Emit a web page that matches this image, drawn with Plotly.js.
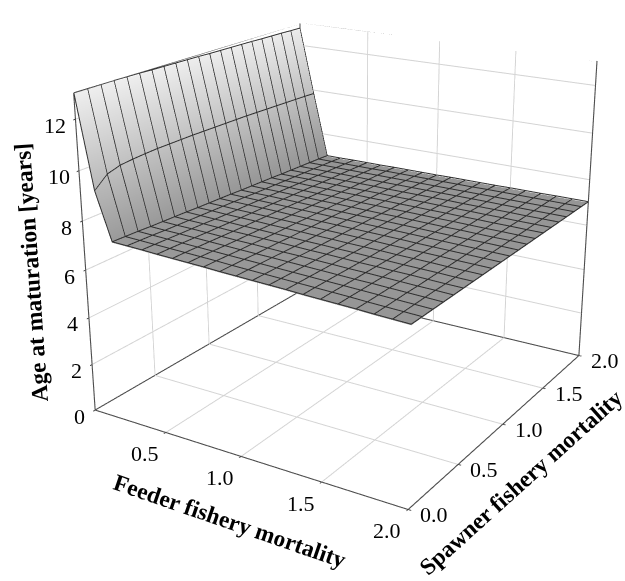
<!DOCTYPE html>
<html><head><meta charset="utf-8"><script src="https://cdn.plot.ly/plotly-3.0.1.min.js"></script>
<style>html,body{margin:0;padding:0;background:#fff;overflow:hidden}#w{position:relative;width:625px;height:581px;overflow:hidden}#g{position:absolute;left:-238px;top:-350px;width:1170px;height:1170px}</style></head>
<body><div id="w"><div id="g"></div></div>
<script>
const feeder=[0,0.1,0.2,0.3,0.4,0.5,0.6,0.7,0.8,0.9,1.0,1.1,1.2,1.3,1.4,1.5,1.6,1.7,1.8,1.9,2.0];
const spawner=[0,0.1,0.2,0.3,0.4,0.5,0.6,0.7,0.8,0.9,1.0,1.1,1.2,1.3,1.4,1.5,1.6,1.7,1.8,1.9,2.0];
const age=[
[13.00,9.30,7.40,7.38,7.36,7.33,7.31,7.29,7.27,7.24,7.22,7.20,7.18,7.16,7.13,7.11,7.09,7.07,7.04,7.02,7.00],
[12.99,9.75,7.38,7.36,7.34,7.32,7.30,7.28,7.26,7.23,7.21,7.19,7.17,7.15,7.13,7.11,7.09,7.06,7.04,7.02,7.00],
[12.97,9.90,7.36,7.34,7.32,7.30,7.28,7.26,7.24,7.22,7.20,7.18,7.16,7.14,7.12,7.10,7.08,7.06,7.04,7.02,7.00],
[12.96,9.95,7.33,7.31,7.30,7.28,7.26,7.24,7.22,7.20,7.19,7.17,7.15,7.13,7.11,7.09,7.08,7.06,7.04,7.02,7.00],
[12.95,9.98,7.31,7.29,7.28,7.26,7.24,7.22,7.21,7.19,7.17,7.16,7.14,7.12,7.10,7.09,7.07,7.05,7.03,7.02,7.00],
[12.94,10.00,7.29,7.27,7.26,7.24,7.22,7.21,7.19,7.18,7.16,7.14,7.13,7.11,7.09,7.08,7.06,7.05,7.03,7.01,7.00],
[12.92,10.00,7.27,7.25,7.23,7.22,7.20,7.19,7.17,7.16,7.14,7.13,7.11,7.10,7.08,7.07,7.05,7.04,7.03,7.01,7.00],
[12.91,10.00,7.24,7.23,7.21,7.20,7.19,7.17,7.16,7.15,7.13,7.12,7.10,7.09,7.08,7.06,7.05,7.04,7.02,7.01,7.00],
[12.90,10.00,7.22,7.21,7.19,7.18,7.17,7.16,7.15,7.13,7.12,7.11,7.10,7.09,7.07,7.06,7.05,7.04,7.02,7.01,7.00],
[12.89,9.99,7.20,7.19,7.18,7.17,7.16,7.14,7.13,7.12,7.11,7.10,7.09,7.08,7.07,7.05,7.04,7.03,7.02,7.01,7.00],
[12.88,9.98,7.18,7.17,7.16,7.15,7.14,7.13,7.12,7.11,7.10,7.09,7.08,7.07,7.06,7.05,7.04,7.03,7.02,7.01,7.00],
[12.86,9.97,7.15,7.14,7.14,7.13,7.12,7.11,7.10,7.09,7.08,7.08,7.07,7.06,7.05,7.04,7.03,7.02,7.02,7.01,7.00],
[12.85,9.96,7.13,7.12,7.12,7.11,7.10,7.09,7.09,7.08,7.07,7.06,7.06,7.05,7.04,7.03,7.03,7.02,7.01,7.01,7.00],
[12.84,9.95,7.11,7.10,7.10,7.09,7.08,7.08,7.07,7.06,7.06,7.05,7.05,7.04,7.03,7.03,7.02,7.01,7.01,7.00,7.00],
[12.83,9.93,7.09,7.08,7.08,7.07,7.07,7.06,7.06,7.05,7.05,7.04,7.04,7.03,7.03,7.02,7.02,7.01,7.01,7.00,7.00],
[12.82,9.91,7.06,7.06,7.06,7.05,7.05,7.04,7.04,7.04,7.03,7.03,7.03,7.02,7.02,7.02,7.01,7.01,7.00,7.00,7.00],
[12.80,9.89,7.04,7.04,7.04,7.03,7.03,7.03,7.03,7.02,7.02,7.02,7.02,7.02,7.01,7.01,7.01,7.01,7.00,7.00,7.00],
[12.79,9.87,7.02,7.02,7.02,7.02,7.02,7.01,7.01,7.01,7.01,7.01,7.01,7.01,7.01,7.01,7.00,7.00,7.00,7.00,7.00],
[12.78,9.85,7.00,7.00,7.00,7.00,7.00,7.00,7.00,7.00,7.00,7.00,7.00,7.00,7.00,7.00,7.00,7.00,7.00,7.00,7.00],
[12.76,9.83,6.98,6.98,6.98,6.98,6.98,6.99,6.99,6.99,6.99,6.99,6.99,6.99,7.00,7.00,7.00,7.00,7.00,7.00,7.00],
[12.75,9.80,6.95,6.95,6.96,6.96,6.96,6.97,6.97,6.97,6.97,6.98,6.98,6.98,6.98,6.99,6.99,6.99,7.00,7.00,7.00]];
const feederTicks=[0.5,1.0,1.5,2.0];
const spawnerTicks=[0.0,0.5,1.0,1.5,2.0];
const ageTicks=[0,2,4,6,8,10,12];
const feederRange=[0,2], spawnerRange=[0,2], ageRange=[0,13];
const font={family:'"Liberation Serif",serif',size:22,color:'#000'};
const tfont={family:'"Liberation Serif",serif',size:23.5,color:'#000'};
const PX=-238,PY=-350,S=1170;
const ann=[];
feederTicks.forEach(v=>ann.push({x:v,y:0,z:0,text:v.toFixed(1),showarrow:false,font:font,xshift:-21,yshift:-21}));
spawnerTicks.forEach(v=>ann.push({x:2,y:v,z:0,text:v.toFixed(1),showarrow:false,font:font,xshift:26,yshift:-5}));
ageTicks.forEach(v=>ann.push({x:0,y:0,z:v,text:String(v),showarrow:false,font:font,xshift:v>=10?-20:-16,yshift:-6}));
const ax=(tv,r)=>({range:r,autorange:false,title:{text:''},tickvals:tv,showticklabels:false,ticks:'outside',ticklen:2.5,tickcolor:'#444',tickwidth:2,
 showgrid:false,showline:false,zeroline:false,showbackground:true,backgroundcolor:'#fff',showspikes:false});
// polyline helper: builds one gap-separated trace through the axes' own data space
function lines(segs,color,width){const X=[],Y=[],Z=[];segs.forEach(s=>{s.forEach(p=>{X.push(p[0]);Y.push(p[1]);Z.push(p[2]);});X.push(null);Y.push(null);Z.push(null);});
 return {type:'scatter3d',mode:'lines',x:X,y:Y,z:Z,line:{color:color,width:width},hoverinfo:'skip',showlegend:false,connectgaps:false};}
const x0=feederRange[0],x1=feederRange[1],y0=spawnerRange[0],y1=spawnerRange[1],z0=ageRange[0],z1=ageRange[1];
const grid=[];
feederTicks.filter(v=>v<x1).forEach(v=>{grid.push([[v,y0,z0],[v,y1,z0],[v,y1,z1]]);});
spawnerTicks.filter(v=>v>y0&&v<y1).forEach(v=>{grid.push([[x1,v,z0],[x0,v,z0],[x0,v,z1]]);});
ageTicks.filter(v=>v>z0).forEach(v=>{grid.push([[x0,y0,v],[x0,y1,v],[x1,y1,v]]);});
const box=[[[x0,y0,z1],[x0,y0,z0],[x1,y0,z0],[x1,y1,z0],[x0,y1,z0],[x0,y0,z0]],[[x0,y0,z1],[x0,y1,z1],[x1,y1,z1],[x1,y1,z0]],[[x0,y1,z0],[x0,y1,z1]]];
const lift=0.04;
const mesh=[];
spawner.forEach((s,i)=>mesh.push(feeder.map((f,j)=>[f,s,age[i][j]+lift])));
feeder.forEach((f,j)=>mesh.push(spawner.map((s,i)=>[f,s,age[i][j]+lift])));
const traces=[
{type:'surface',x:feeder,y:spawner,z:age,cmin:6.95,cmax:13,showscale:false,
 colorscale:[[0,'#959595'],[0.08,'#9a9a9a'],[1,'#efefef']],
 lighting:{ambient:1,diffuse:0,specular:0,roughness:1,fresnel:0},
 contours:{x:{highlight:false},y:{highlight:false},z:{highlight:false}},hoverinfo:'skip'},
 lines(grid,'#d4d4d4',2),lines(box,'#4d4d4d',2.2),lines(mesh,'#2e2e2e',2)];
const r=3.93;
const paper=(px,py)=>({xref:'paper',yref:'paper',x:(px-PX)/S,y:1-(py-PY)/S});
const layout={width:S,height:S,margin:{l:0,r:0,t:0,b:0},paper_bgcolor:'#fff',showlegend:false,
 scene:{domain:{x:[0,1],y:[0,1]},aspectmode:'manual',aspectratio:{x:1.06,y:1.108,z:0.96},
 camera:{eye:{x:0.528*r,y:-0.849*r,z:0.363*r},up:{x:0,y:0,z:1},center:{x:0,y:0,z:0},projection:{type:'perspective'}},
 xaxis:ax(feederTicks,feederRange),yaxis:ax(spawnerTicks,spawnerRange),zaxis:ax(ageTicks,ageRange),annotations:ann},
 annotations:[
 {...paper(230,521),text:'<b>Feeder fishery mortality</b>',showarrow:false,textangle:19,font:tfont,xanchor:'center',yanchor:'middle'},
 {...paper(521,482),text:'<b>Spawner fishery mortality</b>',showarrow:false,textangle:-42,font:tfont,xanchor:'center',yanchor:'middle'},
 {...paper(31,273),text:'<b>Age at maturation [years]</b>',showarrow:false,textangle:-94,font:tfont,xanchor:'center',yanchor:'middle'}]};
Plotly.newPlot('g',traces,layout,{displayModeBar:false});
</script></body></html>
